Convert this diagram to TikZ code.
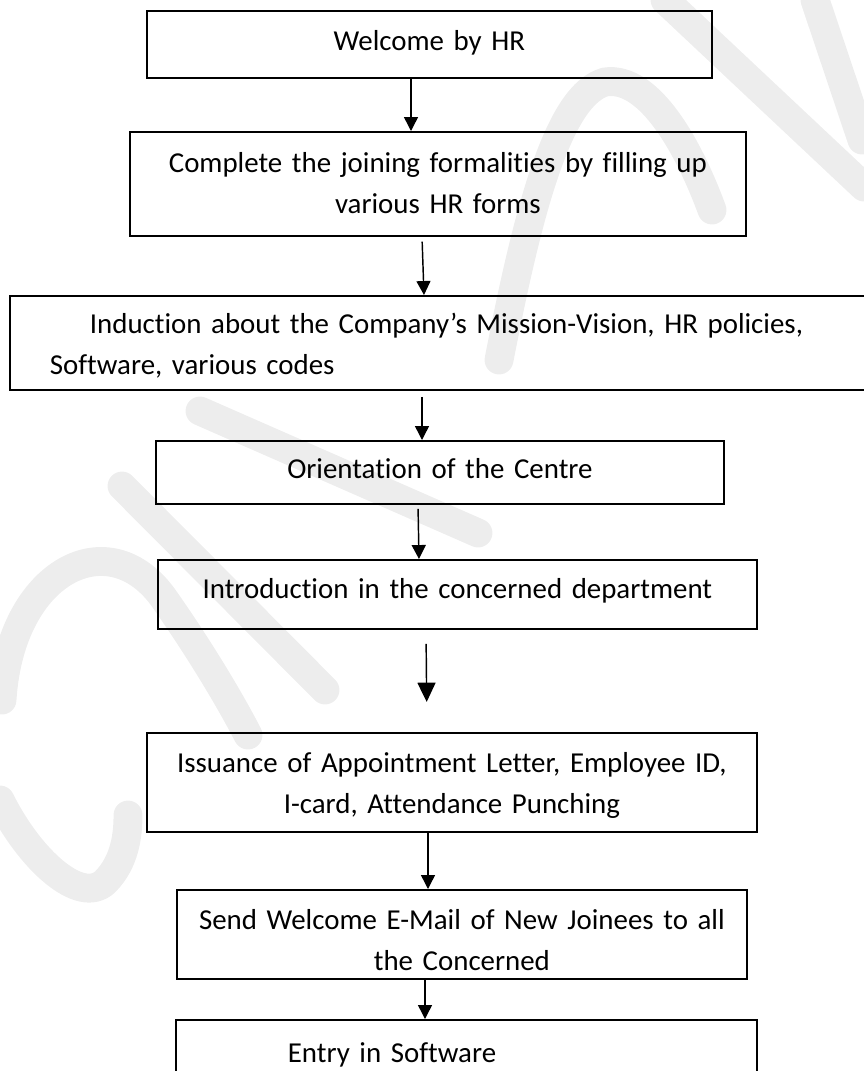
\documentclass[tikz,border=0pt]{standalone}
\usepackage{fontspec}
\setmainfont{Carlito}[Ligatures=NoCommon]
\usetikzlibrary{arrows.meta}

\tikzset{
  stepbox/.style={draw, line width=0.75pt, inner sep=0pt, anchor=north west, align=center,
    font=\fontsize{12}{16.8}\selectfont},
  flow/.style={line width=0.6pt, -{Triangle[length=5.8pt,width=5.8pt]}},
  wmark/.style={draw=black!7, line width=12pt, line cap=round}
}

\begin{document}
\begin{tikzpicture}[x=0.4154pt, y=-0.4154pt]
  \useasboundingbox (0,0) rectangle (864,1071);
  \clip (0,0) rectangle (864,1071);

  % faint watermark behind the chart
  \draw[wmark] (2,700) .. controls (10,570) and (110,520) .. (165,600) .. controls (200,650) and (230,700) .. (248,735);
  \draw[wmark] (0,800) .. controls (30,860) and (80,905) .. (105,882) .. controls (125,862) and (128,835) .. (128,815);
  \draw[wmark] (122,486) -- (325,690);
  \draw[wmark] (200,411) -- (478,533);
  \draw[wmark] (499,360) .. controls (530,200) and (560,95) .. (605,82) .. controls (650,75) and (690,150) .. (712,210);
  \draw[wmark] (665,0) -- (864,187);
  \draw[wmark] (815,0) -- (862,140);

  % steps
  \node[stepbox, text width=234.70pt, text height=16.62pt, text depth=11.22pt] (welcome) at (146,10)
    {Welcome by HR};
  \node[stepbox, text width=255.89pt, text height=17.03pt, text depth=26.17pt] (forms) at (129,131)
    {Complete the joining formalities by filling up\\various HR forms};
  \node[stepbox, align=left, text width=361.81pt, text height=15.79pt, text depth=23.26pt] (induct) at (9,295)
    {\hspace*{33.23pt}Induction about the Company’s Mission-Vision, HR policies,\\\hspace*{16.62pt}Software, various codes};
  \node[stepbox, text width=235.95pt, text height=15.79pt, text depth=10.39pt] (orient) at (155,440)
    {Orientation of the Centre};
  \node[stepbox, text width=248.82pt, text height=16.20pt, text depth=12.46pt] (intro) at (157,559)
    {Introduction in the concerned department};
  \node[stepbox, text width=253.39pt, text height=16.62pt, text depth=24.51pt] (issue) at (146,732)
    {Issuance of Appointment Letter, Employee ID,\\I-card, Attendance Punching};
  \node[stepbox, text width=236.78pt, text height=16.62pt, text depth=20.35pt] (mail) at (176,889)
    {Send Welcome E-Mail of New Joinees to all\\the Concerned};
  \node[stepbox, align=left, text width=241.35pt, text height=17.86pt, text depth=15.79pt] (entry) at (175,1019)
    {\hspace*{46.52pt}Entry in Software};

  % arrows
  \draw[flow] (welcome.south -| 411,0) -- (forms.north -| 411,0);
  \draw[flow, shorten <=2pt] (forms.south -| 422,0) -- (induct.north -| 424,0);
  \draw[flow, shorten <=2.5pt] (induct.south -| 422,0) -- (orient.north -| 422,0);
  \draw[flow, shorten <=1.7pt] (orient.south -| 418,0) -- (intro.north -| 419,0);
  \draw[flow, -{Triangle[length=8pt,width=7.5pt]}, shorten <=5.8pt, shorten >=12.5pt] (intro.south -| 426,0) -- (issue.north -| 427,0);
  \draw[flow] (issue.south -| 428,0) -- (mail.north -| 428,0);
  \draw[flow] (mail.south -| 425,0) -- (entry.north -| 425,0);
\end{tikzpicture}
\end{document}
